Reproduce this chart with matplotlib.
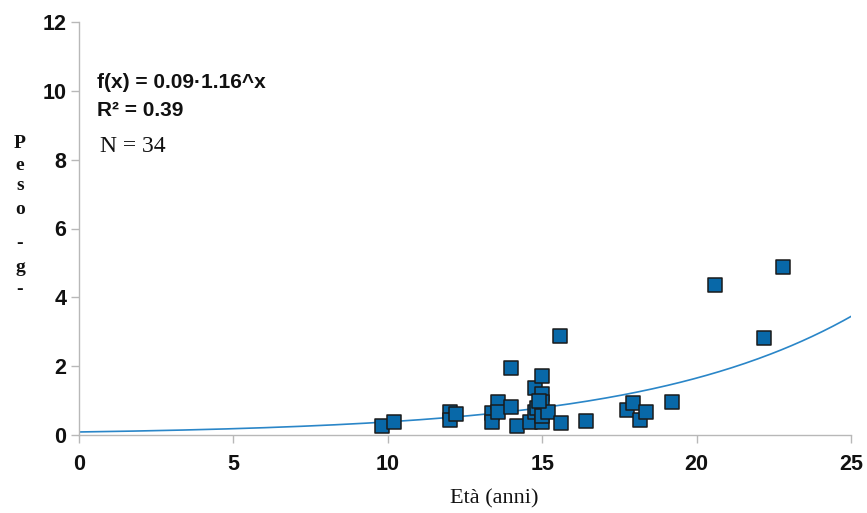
import matplotlib
matplotlib.use("Agg")
import matplotlib.pyplot as plt
import numpy as np

# Data
eta = [9.8, 10.2, 12.0, 12.0, 12.2,
       13.36, 13.36, 13.58, 13.58, 14.0, 14.0, 14.2, 14.6, 14.77, 14.77, 14.82,
       14.98, 14.98, 14.98, 14.98, 14.98, 15.2, 15.6, 15.58, 14.9,
       16.42, 17.76, 17.95, 18.17, 18.36, 19.19, 20.6, 22.19, 22.8]
peso = [0.27, 0.37, 0.67, 0.45, 0.60,
        0.63, 0.39, 0.97, 0.68, 1.94, 0.82, 0.27, 0.39, 1.36, 0.68, 0.78,
        1.70, 1.18, 0.97, 0.39, 0.55, 0.66, 0.34, 2.88, 1.0,
        0.41, 0.73, 0.94, 0.44, 0.68, 0.95, 4.36, 2.81, 4.87]

fit_a = 0.088
fit_b = 1.158
x_ticks = [0, 5, 10, 15, 20, 25]
y_ticks = [0, 2, 4, 6, 8, 10, 12]
eq_text = "f(x) = 0.09·1.16^x"
r2_text = "R² = 0.39"
n_text = "N = 34"
x_label = "Età (anni)"
y_label_chars = ["P", "e", "s", "o", "-", "g", "-"]

fig = plt.figure(figsize=(8.67, 5.13), dpi=100)
ax = fig.add_axes([79/867, 1-435/513, (851-79)/867, (435-22)/513])

xs = np.linspace(0, 25, 300)
ax.plot(xs, fit_a * fit_b ** xs, color="#2a86c8", lw=1.2, zorder=2)
ax.scatter(eta, peso, marker="s", s=95, color="#0868a8", edgecolor="#1a1a1a",
           linewidth=1.1, zorder=3)

ax.set_xlim(0, 25)
ax.set_ylim(0, 12)
ax.set_xticks(x_ticks)
ax.set_yticks(y_ticks)
for s in ["top", "right"]:
    ax.spines[s].set_visible(False)
for s in ["left", "bottom"]:
    ax.spines[s].set_color("#b8b8b8")
    ax.spines[s].set_linewidth(1.0)
ax.tick_params(axis="both", color="#b8b8b8", length=6, width=1.0,
               labelsize=15.5, labelcolor="#111111")
for lab in ax.get_xticklabels() + ax.get_yticklabels():
    lab.set_fontfamily("Liberation Sans")
    lab.set_fontweight("bold")
ax.tick_params(axis="x", pad=8)
ax.tick_params(axis="y", pad=3)

fig.text(97/867, 1-83/513, eq_text, fontsize=15, fontweight="bold",
         family="Liberation Sans", va="center", ha="left", color="#111111")
fig.text(97/867, 1-110/513, r2_text, fontsize=15, fontweight="bold",
         family="Liberation Sans", va="center", ha="left", color="#111111")
fig.text(100/867, 1-146/513, n_text, fontsize=17,
         family="Liberation Serif", va="center", ha="left", color="#111111")

fig.text(494/867, 1-499/513, x_label, fontsize=16, family="Liberation Serif",
         ha="center", va="center", color="#111111")
ys = [144, 166, 186, 210, 244, 268, 290]
for ch, yy in zip(y_label_chars, ys):
    fig.text(20/867, 1-yy/513, ch, fontsize=14, fontweight="bold",
             family="Liberation Serif", ha="center", va="center", color="#111111")

fig.savefig("out.png", dpi=100)
